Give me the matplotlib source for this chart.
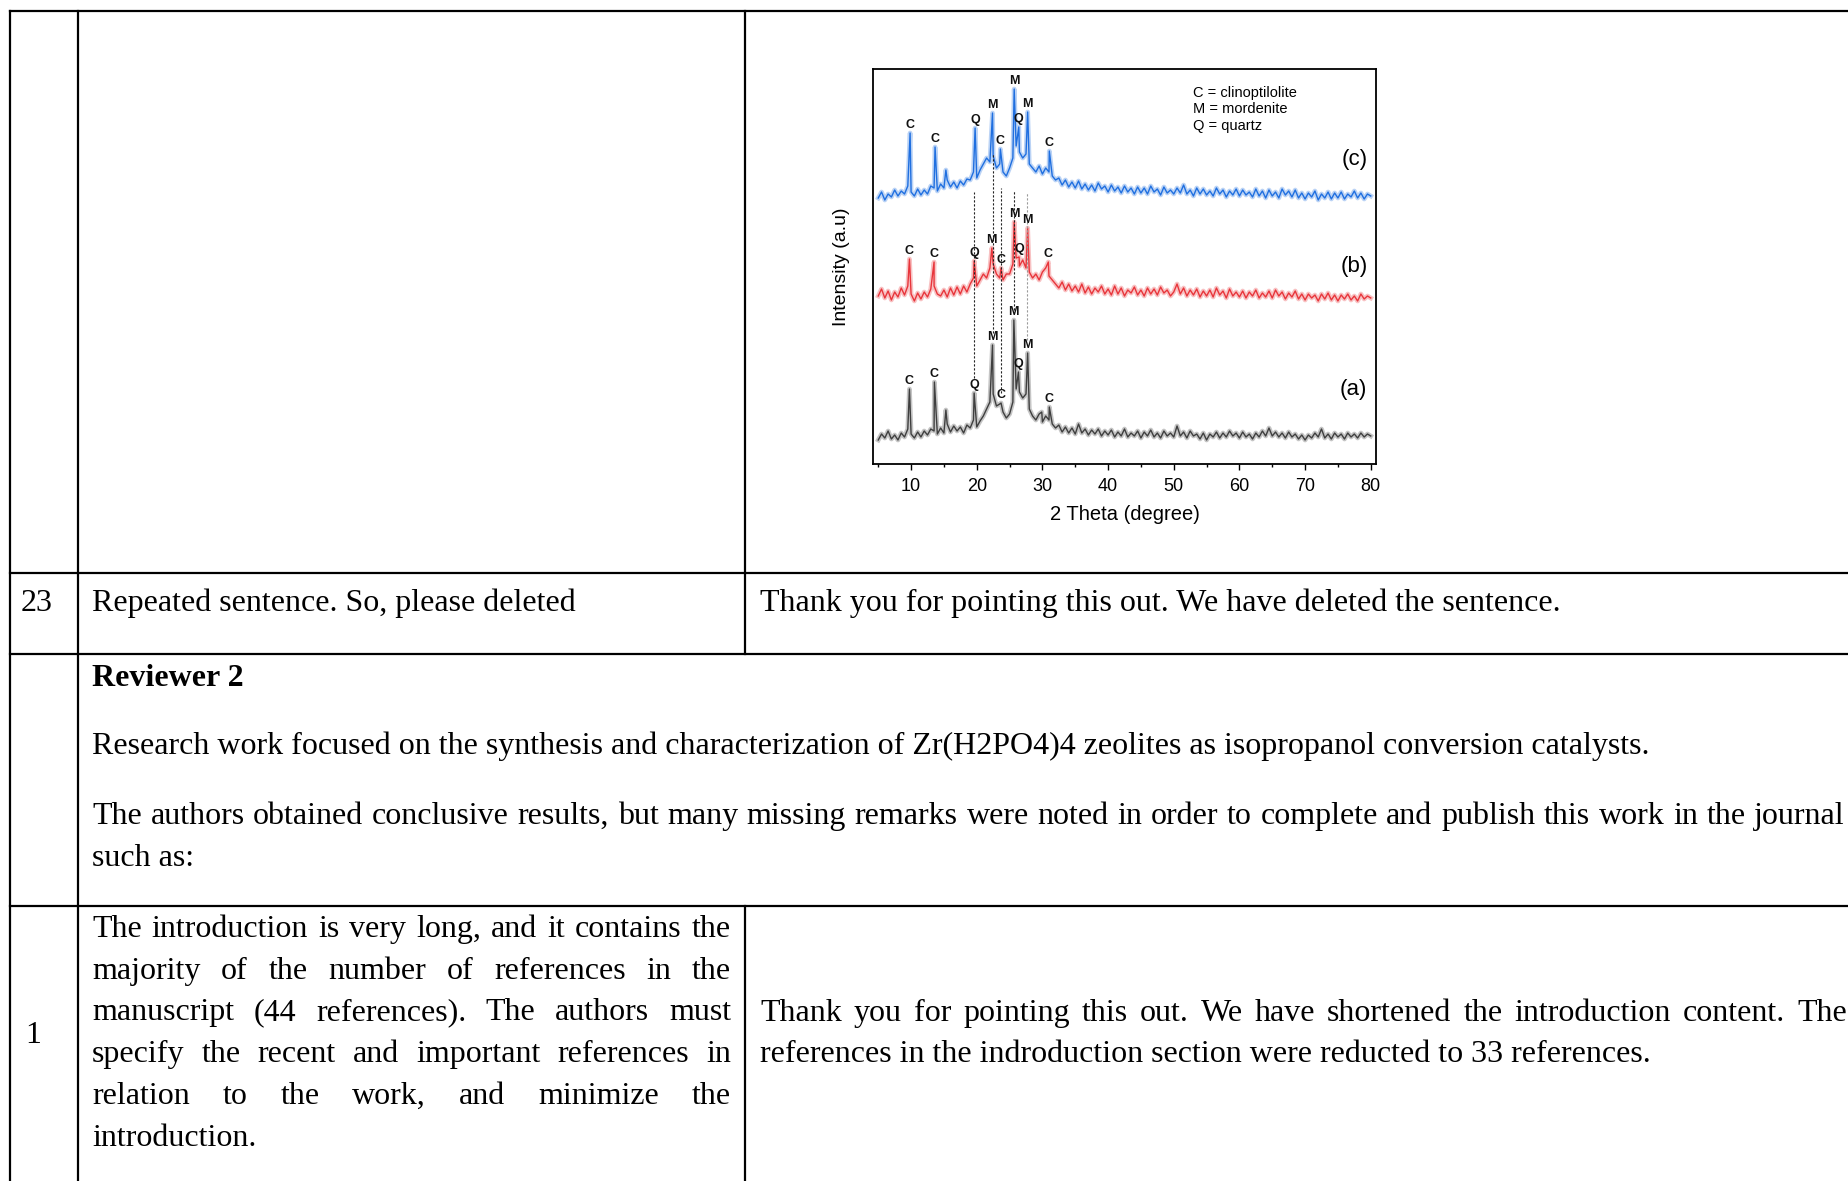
import numpy as np
import matplotlib
matplotlib.use('Agg')
import matplotlib.pyplot as plt

# ---------------- XRD data (intensity in arbitrary units) ----------------
theta_grid = np.arange(5.0, 80.5, 0.5)

a_base = [24, 30, 26, 33, 25, 29, 24, 31, 27, 35,
          30, 26, 32, 27, 33, 29, 35, 33, 30, 36,
          31, 40, 32, 38, 33, 37, 31, 39, 36, 44,
          37, 43, 48, 55, 62, 70, 58, 60, 52, 46,
          50, 62, 75, 72, 66, 70, 55, 48, 44, 50,
          42, 48, 44, 40, 36, 39, 32, 37, 31, 36,
          30, 40, 31, 35, 29, 34, 30, 35, 28, 33,
          29, 34, 27, 32, 28, 35, 27, 31, 28, 33,
          26, 32, 28, 34, 27, 31, 26, 33, 28, 31,
          27, 38, 28, 32, 26, 33, 28, 30, 25, 31,
          24, 30, 27, 32, 26, 31, 27, 33, 28, 31,
          26, 32, 27, 30, 25, 31, 27, 33, 28, 36,
          28, 32, 27, 31, 26, 32, 27, 30, 25, 29,
          24, 29, 26, 31, 27, 35, 26, 30, 25, 31,
          27, 30, 25, 31, 27, 30, 26, 31, 27, 30,
          28]

b_base = [168, 175, 166, 173, 164, 172, 167, 176, 169, 178,
          170, 163, 171, 165, 172, 167, 175, 178, 170, 168,
          174, 167, 176, 169, 177, 170, 178, 172, 180, 186,
          178, 184, 190, 186, 196, 200, 190, 186, 184, 190,
          190, 200, 206, 198, 204, 196, 192, 186, 190, 184,
          192, 196, 188, 184, 180, 176, 182, 174, 180, 173,
          178, 172, 180, 171, 177, 170, 176, 172, 178, 170,
          175, 169, 178, 170, 176, 168, 174, 171, 177, 169,
          174, 168, 176, 170, 175, 169, 177, 171, 174, 168,
          172, 180, 170, 176, 168, 174, 169, 175, 167, 173,
          168, 174, 167, 176, 169, 173, 166, 175, 168, 172,
          167, 173, 166, 172, 168, 174, 166, 171, 167, 173,
          166, 174, 168, 172, 165, 171, 167, 173, 165, 170,
          164, 170, 166, 169, 163, 170, 165, 171, 164, 169,
          163, 169, 165, 170, 164, 168, 163, 170, 165, 168,
          166]

c_base = [266, 272, 264, 270, 267, 274, 268, 273, 270, 278,
          272, 268, 275, 269, 274, 270, 278, 276, 273, 280,
          276, 284, 277, 282, 276, 283, 279, 285, 284, 292,
          286, 294, 300, 306, 302, 308, 296, 300, 292, 288,
          296, 306, 318, 312, 306, 310, 300, 296, 292, 298,
          290, 296, 292, 288, 284, 286, 279, 284, 277, 282,
          276, 283, 275, 280, 274, 279, 273, 281, 275, 278,
          272, 279, 273, 277, 271, 278, 272, 276, 270, 277,
          271, 276, 270, 278, 272, 275, 269, 277, 271, 274,
          270, 276, 271, 279, 270, 274, 268, 276, 270, 275,
          269, 273, 268, 276, 270, 274, 267, 273, 269, 275,
          268, 274, 269, 272, 267, 275, 268, 273, 266, 274,
          268, 272, 266, 275, 269, 273, 267, 274, 266, 271,
          265, 271, 267, 273, 264, 270, 266, 272, 265, 271,
          266, 272, 265, 270, 267, 273, 266, 271, 265, 270,
          268]

a_peak_theta = [9.75, 13.55, 15.3, 19.6, 22.4, 23.7, 25.65, 26.35, 27.75, 29.9, 31.05]
a_peak_int = [75, 82, 54, 71, 119, 61, 144, 92, 111, 52, 57]
a_peak_lab = ['C', 'C', '', 'Q', 'M', 'C', 'M', 'Q', 'M', '', 'C']

b_peak_theta = [9.75, 13.5, 19.6, 22.3, 23.7, 25.7, 26.45, 27.75, 30.9]
b_peak_int = [205, 202, 203, 216, 196, 242, 207, 236, 202]
b_peak_lab = ['C', 'C', 'Q', 'M', 'C', 'M', 'Q', 'M', 'C']

c_peak_theta = [9.85, 13.65, 15.3, 19.75, 22.4, 23.6, 25.7, 26.4, 27.75, 31.05]
c_peak_int = [331, 317, 294, 336, 351, 315, 375, 337, 352, 313]
c_peak_lab = ['C', 'C', '', 'Q', 'M', 'C', 'M', 'Q', 'M', 'C']

# dotted guide lines between the patterns
guide_theta = [19.6, 22.4, 23.7, 25.7, 27.7]
guide_top = [272, 311, 276, 274, 272]
guide_bottom = [86, 131, 71, 154, 124]
guide_color = ['#222222', '#222222', '#222222', '#222222', '#9a9a9a']

legend_lines = ['C = clinoptilolite', 'M = mordenite', 'Q = quartz']
sample_tags = ['(c)', '(b)', '(a)']
sample_tag_y = [304, 197, 74]

# ---------------- figure ----------------
W, H = 1849, 1181
fig = plt.figure(figsize=(W / 100, H / 100), dpi=100)
fig.patch.set_facecolor('white')

bg = fig.add_axes([0, 0, 1, 1])
bg.set_xlim(0, W)
bg.set_ylim(H, 0)
bg.axis('off')

# table grid
lw_tab = 1.6
bg.plot([10, W], [11, 11], color='black', lw=lw_tab)
for yy in [573, 654, 906]:
    bg.plot([10, W], [yy, yy], color='black', lw=lw_tab)
bg.plot([10, 10], [11, H], color='black', lw=lw_tab)
bg.plot([78, 78], [11, H], color='black', lw=lw_tab)
bg.plot([745, 745], [11, 654], color='black', lw=lw_tab)
bg.plot([745, 745], [906, H], color='black', lw=lw_tab)

serif = 'Liberation Serif'
fs = 23
txt_kw = dict(family=serif, fontsize=fs, color='black', va='baseline', ha='left')

renderer = fig.canvas.get_renderer()


def put_line(x0, y, line, width=None, **kw):
    opts = dict(txt_kw)
    opts.update(kw)
    if width is None:
        bg.text(x0, y, line, **opts)
        return
    words = line.split(' ')
    texts = [bg.text(0, y, w, **opts) for w in words]
    widths = [t.get_window_extent(renderer).width for t in texts]
    gap = (width - sum(widths)) / (len(words) - 1)
    x = x0
    for t, w in zip(texts, widths):
        t.set_x(x)
        x += w + gap


put_line(21, 611, '23')
put_line(92, 611, 'Repeated sentence. So, please deleted')
put_line(760, 611, 'Thank you for pointing this out. We have deleted the sentence.')

put_line(92, 686, 'Reviewer 2', fontweight='bold')
put_line(92, 754, 'Research work focused on the synthesis and characterization of '
                  'Zr(H2PO4)4 zeolites as isopropanol conversion catalysts.')
put_line(92, 824, 'The authors obtained conclusive results, but many missing remarks were '
                  'noted in order to complete and publish this work in the journal', width=1845 - 92)
put_line(92, 866, 'such as:')

left_para = ['The introduction is very long, and it contains the',
             'majority of the number of references in the',
             'manuscript (44 references). The authors must',
             'specify the recent and important references in',
             'relation to the work, and minimize the',
             'introduction.']
left_base = [937, 979, 1020, 1062, 1104, 1146]
for i, (ln, yb) in enumerate(zip(left_para, left_base)):
    put_line(92, yb, ln, width=(731 - 92) if i < len(left_para) - 1 else None)

put_line(25, 1043, '1')
put_line(760, 1021, 'Thank you for pointing this out. We have shortened the introduction content. The',
         width=1847 - 760)
put_line(760, 1062, 'references in the indroduction section were reducted to 33 references.')

# ---------------- XRD chart ----------------
sans = 'Liberation Sans'
ax = fig.add_axes([873 / W, 1 - 464 / H, (1376 - 873) / W, (464 - 69) / H])
ax.set_xlim(4.2, 80.8)
ax.set_ylim(0, 395)

curves = [(a_base, a_peak_theta, a_peak_int, a_peak_lab, '#3f3f3f'),
          (b_base, b_peak_theta, b_peak_int, b_peak_lab, '#e8353b'),
          (c_base, c_peak_theta, c_peak_int, c_peak_lab, '#1f6fe0')]

for base, pth, pint, plab, col in curves:
    xs = np.concatenate([theta_grid, pth])
    ys = np.concatenate([base, pint])
    order = np.argsort(xs)
    ax.plot(xs[order], ys[order], color=col, lw=3.4, alpha=0.3)
    ax.plot(xs[order], ys[order], color=col, lw=1.0)
    for t, v, lab in zip(pth, pint, plab):
        if lab:
            ax.text(t, v + 2, lab, family=sans, fontsize=9, fontweight='bold',
                    ha='center', va='bottom', color='#111111')

for t, top, bot, gc in zip(guide_theta, guide_top, guide_bottom, guide_color):
    ax.plot([t, t], [bot, top], color=gc, lw=0.8, linestyle=(0, (2, 1.6)))

for i, s in enumerate(legend_lines):
    ax.text(52.9, 371 - i * 16.5, s, family=sans, fontsize=10.5, ha='left', va='center')

for s, yy in zip(sample_tags, sample_tag_y):
    ax.text(79.5, yy, s, family=sans, fontsize=16, ha='right', va='center')

ax.set_xticks([10, 20, 30, 40, 50, 60, 70, 80])
ax.set_xticks(np.arange(5, 81, 10), minor=True)
ax.set_yticks([])
ax.tick_params(axis='x', which='major', direction='out', length=4, width=1, pad=6,
               labelsize=13)
ax.tick_params(axis='x', which='minor', direction='out', length=2.5, width=1)
for lbl in ax.get_xticklabels():
    lbl.set_family(sans)
for sp in ax.spines.values():
    sp.set_linewidth(1.3)

ax.set_xlabel('2 Theta (degree)', family=sans, fontsize=14.5)
ax.xaxis.set_label_coords(0.5, -(515 - 464) / 395)
ax.xaxis.label.set_va('center')
ax.set_ylabel('Intensity (a.u)', family=sans, fontsize=14)
ax.yaxis.set_label_coords(-(873 - 842) / 503, 0.5)
ax.yaxis.label.set_va('center')

fig.savefig('out.png', dpi=100)
